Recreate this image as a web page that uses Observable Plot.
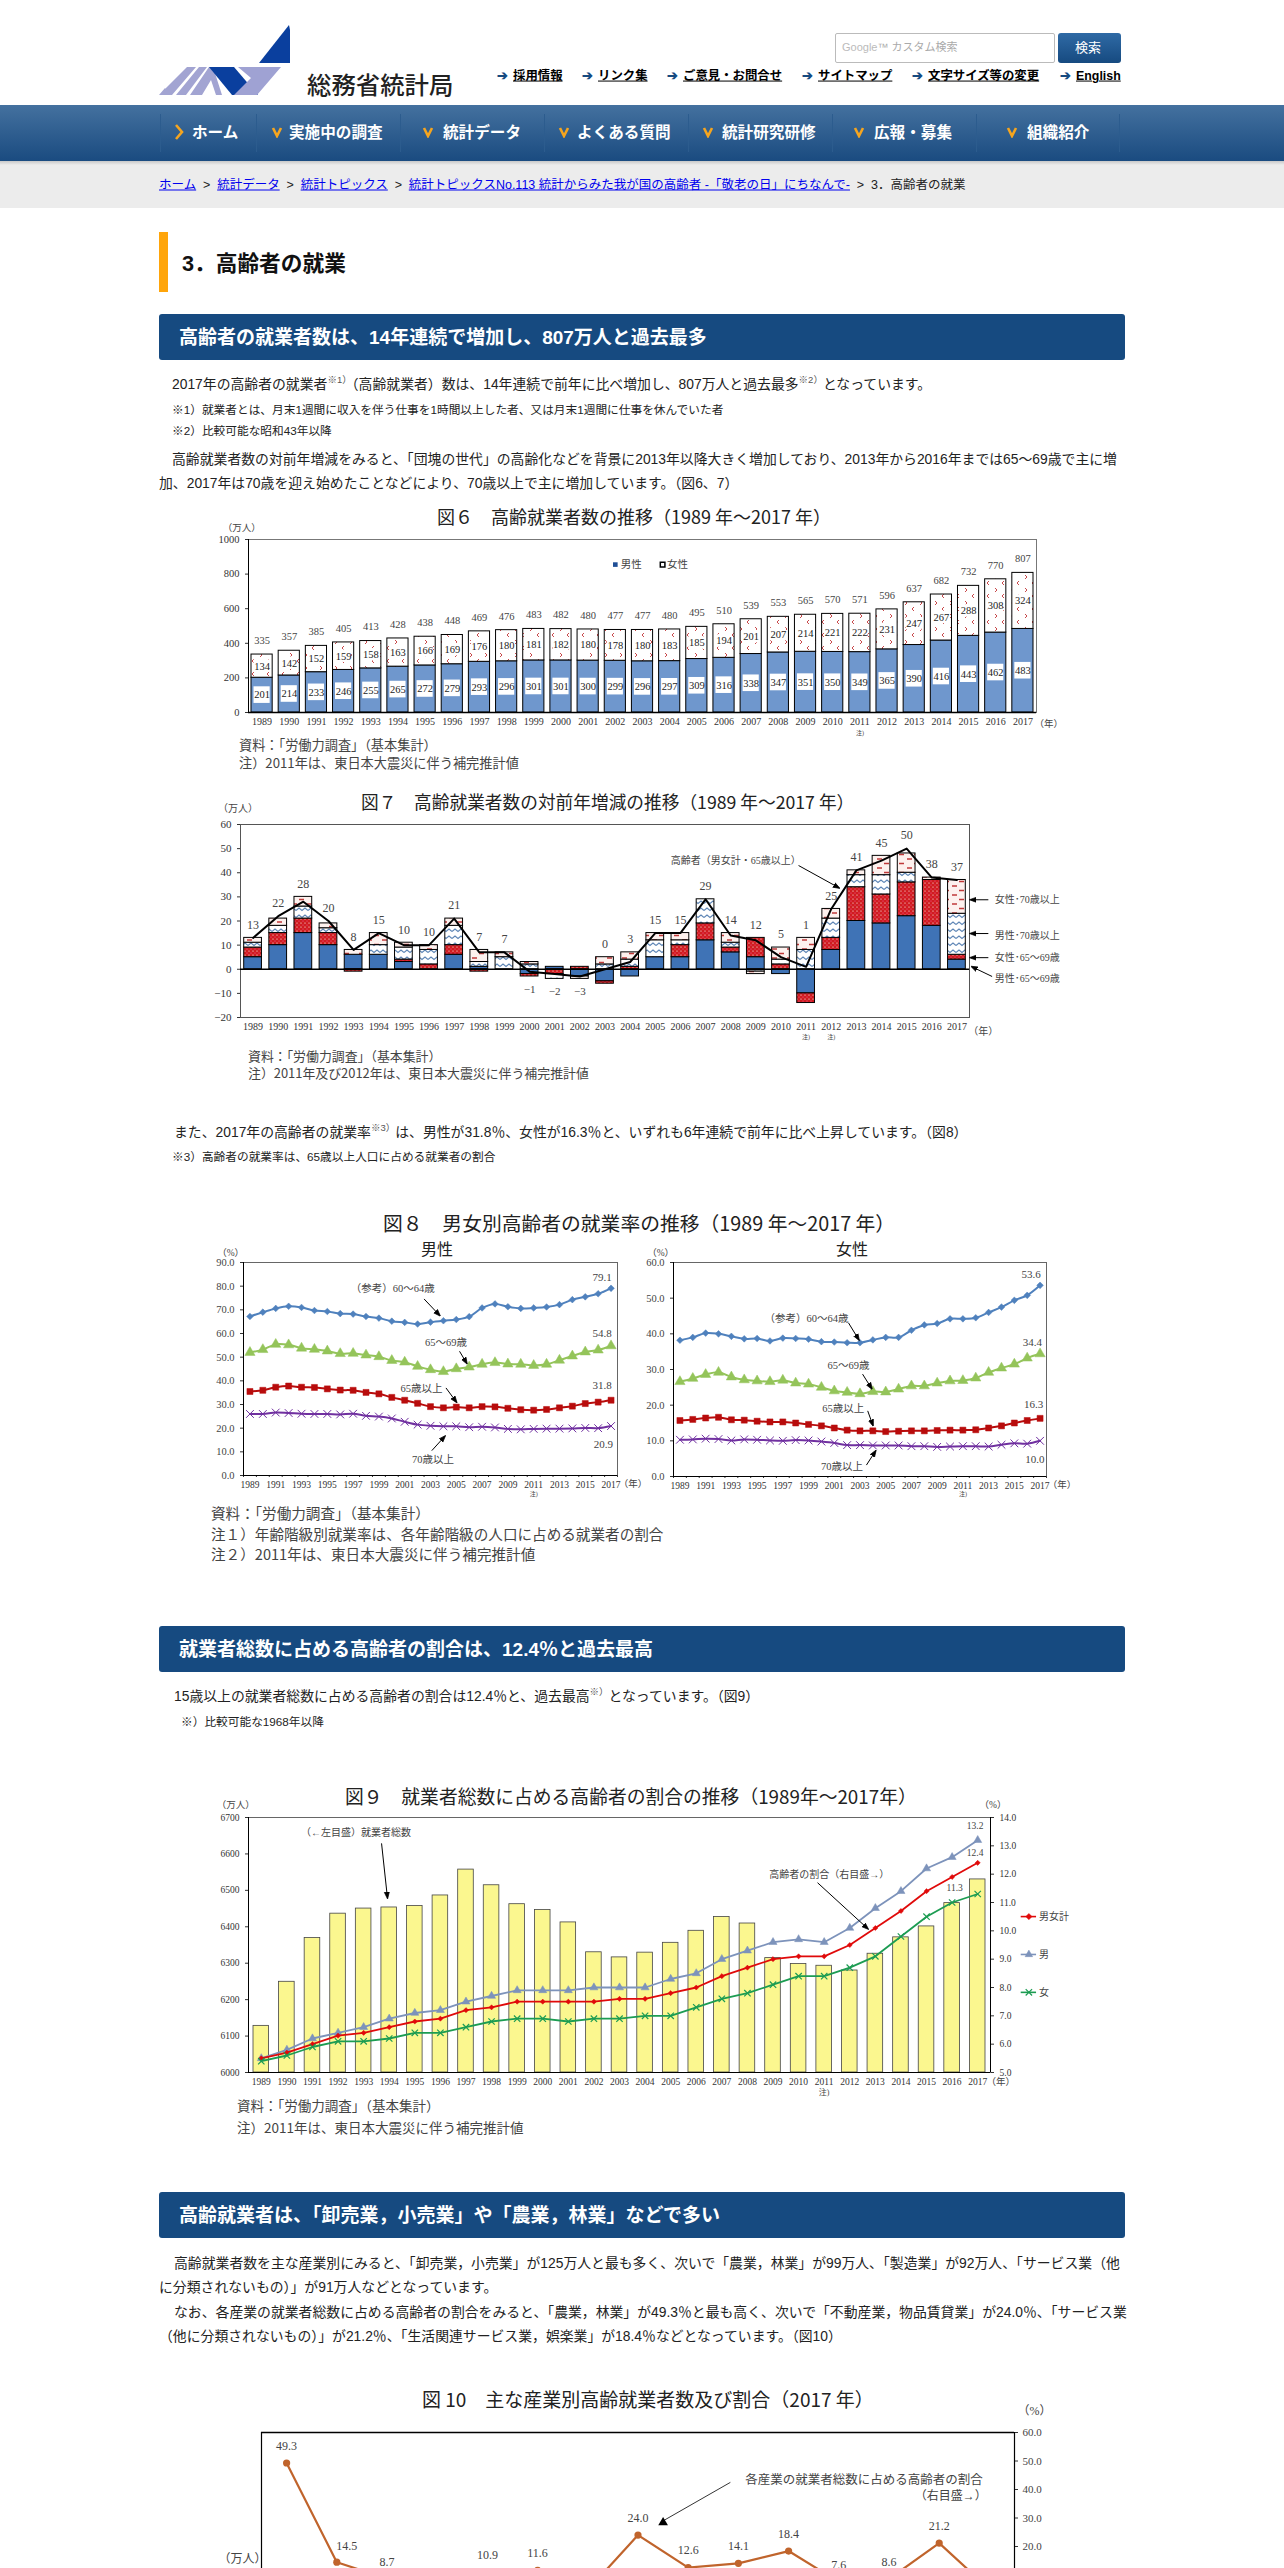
<!DOCTYPE html>
<html lang="ja"><head><meta charset="utf-8">
<script src="https://cdn.jsdelivr.net/npm/d3@7"></script>
<script src="https://cdn.jsdelivr.net/npm/@observablehq/plot@0.6"></script>
<style>
html,body{margin:0;padding:0;width:1284px;height:2568px;overflow:hidden;background:#fff}
body{position:relative;font-family:"Liberation Sans","Noto Sans CJK JP",sans-serif;color:#222}
.t{position:absolute;white-space:nowrap;transform:translateY(-50%);line-height:1.2}
.p{font-size:13.85px;color:#222}
.n{font-size:11.7px;color:#222}
.h2{font-size:19px;font-weight:bold;color:#fff}
.ct{font-family:"Noto Sans CJK JP",sans-serif;font-size:18px;color:#222;font-weight:400}
.src{font-family:"Noto Sans CJK JP",sans-serif;font-size:13.2px;color:#444;font-weight:400}
.box{position:absolute}
.bar{position:absolute;left:159px;width:966px;height:46px;background:#164a80;border-radius:3px}
sup{font-size:9.5px;line-height:0;color:#555}
.lnk{font-size:12.4px;font-weight:bold;color:#000;text-decoration:underline}
.arw{font-weight:bold;color:#164a80}
.nav{font-size:15.6px;font-weight:bold;color:#fff}
.bc{font-size:12.5px;color:#222}.bc a{color:#00e;text-decoration:underline}
.bc i{display:inline-block;width:21px;text-align:center;font-style:normal}
</style></head><body>
<svg width="0" height="0" style="position:absolute"><defs>
<pattern id="pWomen" width="15" height="13" patternUnits="userSpaceOnUse"><rect width="15" height="13" fill="#fff"/><path d="M2 1l2 2-2 2M11 7l-2 2 2 2" fill="none" stroke="#c8494b" stroke-width="1"/></pattern>
<pattern id="pRed" width="4" height="4" patternUnits="userSpaceOnUse"><rect width="4" height="4" fill="#d01c1f"/><circle cx="1" cy="1" r=".6" fill="#fff"/><circle cx="3" cy="3" r=".5" fill="#f6b"/></pattern>
<pattern id="pZig" width="12" height="7" patternUnits="userSpaceOnUse"><rect width="12" height="7" fill="#fff"/><path d="M0 4.5L3 2 6 4.5 9 2 12 4.5" fill="none" stroke="#5e86b6" stroke-width="1.1"/></pattern>
<pattern id="pDash" width="15" height="9" patternUnits="userSpaceOnUse"><rect width="15" height="9" fill="#fdf1ee"/><path d="M2 2h5M9 6.5h5" stroke="#c03a3a" stroke-width="1.3"/></pattern>
</defs></svg>

<!-- header -->
<svg class="box" style="left:155px;top:20px" width="135" height="80" viewBox="155 20 135 80">
<path d="M289 25L259 63H290L293 44Z" fill="#0a3f9e"/><path d="M292 50L305 63H294Z" fill="#0a3f9e"/>
<path d="M159 95L187 67H196L172 95ZM176 95L199 67H207L186 95ZM190 95L209 67H213L222 95H216L211 80 202 95ZM159 95L165 88 168 95Z" fill="#a2a4d2"/>
<path d="M209 67H234L258 95H232Z" fill="#0a3f9e"/><path d="M238 67H281L257 95H234L251 78Z" fill="#9fa2d3"/>
</svg>
<div id="root"></div>
<script>
// ---- chart data ----
const YEARS=[1989,1990,1991,1992,1993,1994,1995,1996,1997,1998,1999,2000,2001,2002,2003,2004,2005,2006,2007,2008,2009,2010,2011,2012,2013,2014,2015,2016,2017];
// fig 6
const men6=[201,214,233,246,255,265,272,279,293,296,301,301,300,299,296,297,309,316,338,347,351,350,349,365,390,416,443,462,483];
const women6=[134,142,152,159,158,163,166,169,176,180,181,182,180,178,180,183,185,194,201,207,214,221,222,231,247,267,288,308,324];
const total6=[335,357,385,405,413,428,438,448,469,476,483,482,480,477,477,480,495,510,539,553,565,570,571,596,637,682,732,770,807];
// fig 7
const m65=[5,10,15,10,6,6,3,0,6,1,0,-2,1,-3,-5,-3,5,5,12,7,5,-2,-10,8,20,19,22,18,4];
const f65=[4,5,6,5,-1,0,1,2,4,-1,0,-1,-2,1,-1,1,0,5,7,2,8,2,-4,5,14,12,14,19,2];
const m70=[2,3,5,2,0,4,5,6,8,2,5,2,-2,0,2,3,7,2,10,2,-1,2,8,8,5,8,4,0,17];
const f70=[2,3,4,2,2,5,2,2,3,5,2,1,0,-1,3,3,3,3,0,4,-1,5,5,4,2,8,8,1,14];
const total7=[13,22,28,20,8,15,10,10,21,7,7,-1,-2,-3,0,3,15,15,29,14,12,5,1,25,41,45,50,38,37];
// fig 8
const mA=[67.2,69,70.6,71.5,71,69.7,69.3,68.4,68.2,67.2,66.5,65.2,64.7,64,64.8,65.4,65.9,67.1,70.8,72.5,71.3,70.6,70.8,71.2,72.2,74.3,75.5,76.8,79.1];
const mB=[52,53.2,55.4,55.2,53.8,53.3,52.6,51.5,51.6,50.9,50.2,48.6,47.9,46.1,44.7,43.9,45.1,45.8,47,47.7,47.1,47,46.5,47,48.7,50.5,52.2,53,54.8];
const mC=[35.5,36,37.3,37.8,37.3,37.2,36.6,36.1,36,35.1,34.5,33,31.8,30.5,29.1,28.6,28.9,28.6,29.1,29,28.4,27.8,27.6,27.9,28.6,29.3,30.4,31,31.8];
const mD=[26,26,26.6,26.4,26.1,26,26,25.8,26.1,25.2,24.9,24.1,22.7,21.5,21,20.8,20.8,20.4,20.6,20.3,19.7,19.5,19.7,19.8,19.8,19.9,20.1,20,20.9];
const fA=[38.2,39,40.2,40,39.3,38.6,38.7,38,38.8,38.7,38.5,37.8,37.7,37.5,37.5,38.3,39,39,41,42.5,42.9,44.2,44.2,44.5,46,47.5,49.4,50.8,53.6];
const fB=[26.6,27.5,28.6,29.2,27.9,27.1,26.8,26.6,27,26.2,25.9,25,24,23.6,23.2,23.8,23.7,24.5,25.4,25.4,26.2,26.8,26.9,27.6,29.2,30.4,31.5,33.2,34.4];
const fC=[15.7,16,16.4,16.6,15.9,15.8,15.5,15.3,15.3,15,14.6,14.2,13.6,13,12.8,12.8,12.6,12.7,12.8,12.8,12.9,13,13,13.1,13.6,14.2,15,15.7,16.3];
const fD=[10.3,10.4,10.6,10.5,10.1,10.4,10.3,10.1,10,10.2,10.1,9.8,9.4,8.8,8.8,8.7,8.7,8.7,8.5,8.5,8.3,8.4,8.5,8.5,8.4,8.9,9.3,9.2,10];
// fig 9
const employed=[6128,6249,6369,6436,6450,6453,6457,6486,6557,6514,6462,6446,6412,6330,6316,6329,6356,6389,6427,6409,6314,6298,6293,6280,6326,6371,6401,6465,6530];
const shareAll=[5.5,5.7,6,6.3,6.4,6.6,6.8,6.9,7.2,7.3,7.5,7.5,7.5,7.5,7.6,7.6,7.8,8,8.4,8.7,9,9.1,9.1,9.5,10.1,10.7,11.4,11.9,12.4];
const shareMen=[5.5,5.8,6.2,6.4,6.6,6.9,7.1,7.2,7.5,7.7,7.9,7.9,7.9,8,8,8,8.3,8.5,9,9.3,9.6,9.7,9.6,10.1,10.8,11.4,12.2,12.6,13.2];
const shareWomen=[5.4,5.6,5.9,6.1,6.1,6.2,6.4,6.4,6.6,6.8,6.9,6.9,6.8,6.9,6.9,7,7,7.3,7.6,7.8,8.1,8.4,8.4,8.7,9.1,9.8,10.5,11,11.3];
// fig 10
const shareIndustry=[49.3,14.5,8.7,4.5,10.9,11.6,4.7,24,12.6,14.1,18.4,7.6,8.6,21.2,5];

// ---- helpers ----
const root=document.getElementById("root");
function T(x,y,html,cls,extra){const d=document.createElement("div");d.className="t "+(cls||"");d.style.left=x+"px";d.style.top=y+"px";d.innerHTML=html;if(extra)d.style.cssText+=";"+extra;root.appendChild(d);return d;}
function B(l,t,w,h,css){const d=document.createElement("div");d.className="box";d.style.cssText=`left:${l}px;top:${t}px;width:${w}px;height:${h}px;${css}`;root.appendChild(d);return d;}
const SERIF='"Liberation Serif","Noto Sans CJK JP",serif';
function chart(box,m,xd,yd,marks){
  const [ml,mr,mt,mb]=m;
  const svg=Plot.plot({width:box.r-box.l+ml+mr,height:box.b-box.t+mt+mb,marginLeft:ml,marginRight:mr,marginTop:mt,marginBottom:mb,
    x:{domain:xd,axis:null},y:{domain:yd,axis:null},
    style:{fontFamily:SERIF,background:"transparent",color:"#333",overflow:"visible"},marks});
  svg.style.position="absolute";svg.style.left=(box.l-ml)+"px";svg.style.top=(box.t-mt)+"px";svg.style.maxWidth="none";
  root.appendChild(svg);return svg;
}
const head=(color)=>{const m=d3.create("svg:marker").attr("viewBox","-5 -5 10 10").attr("markerWidth",7).attr("markerHeight",7).attr("orient","auto").attr("refX",3);m.append("path").attr("d","M-5,-3.6L5,0L-5,3.6Z").attr("fill",color);return m.node();};
const arrows=(list)=>Plot.link(list,{x1:d=>d[0],y1:d=>d[1],x2:d=>d[2],y2:d=>d[3],stroke:"#000",strokeWidth:1,markerEnd:head});
const notes=(list,fs,opt={})=>Plot.text(list,{x:d=>d[0],y:d=>d[1],text:d=>d[2],fontSize:fs,fill:"#444",...opt});
const XD=[1988.5,2017.5];
const rows=(vals)=>YEARS.map((y,i)=>({y,v:vals[i]}));

// ---- page chrome ----
[["採用情報",498],["リンク集",583],["ご意見・お問合せ",668],["サイトマップ",803],["文字サイズ等の変更",913],["English",1061]].forEach(([s,x])=>{
  T(x-1,76,"➔","arw","font-size:13px");T(x+15,76,s,"lnk");});
T(307,84,"総務省統計局","","font-family:'Noto Sans CJK JP';font-size:24.4px;font-weight:500;color:#222");
B(835,33,218,28,"border:1px solid #bbb;border-radius:2px;background:#fff");
T(842,48,"<span style='color:#bbb'>Google</span><span style='color:#aaa'>™ カスタム検索</span>","","font-size:11px");
B(1058,33,63,30,"background:linear-gradient(#2f6aa5,#164a80);border-radius:3px");
T(1075,48,"検索","","font-size:13px;color:#fff");
B(0,105,1284,56,"background:linear-gradient(#44719f,#1a4b80)");
B(0,161,1284,47,"background:linear-gradient(#c8c8c8,#ececec 4px,#ececec)");
[160,256,400,544,688,832,976,1119].forEach(x=>B(x,114,1,38,"background:#2c5c8e"));
[["ホーム",192,179,1],["実施中の調査",289,276,0],["統計データ",443,427,0],["よくある質問",577,563,0],["統計研究研修",722,707,0],["広報・募集",874,858,0],["組織紹介",1027,1011,0]].forEach(([s,x,c,home])=>{
  T(x,133,s,"nav");
  T(c-5,132,home?"<svg width='10' height='18'><path d='M2 2L8 9 2 16' fill='none' stroke='#f5a51f' stroke-width='2.6'/></svg>":"<svg width='12' height='12'><path d='M2 2L6 10 10 2' fill='none' stroke='#f5a51f' stroke-width='2.6'/></svg>","","line-height:0");
});
T(159,185,"<a>ホーム</a><i>&gt;</i><a>統計データ</a><i>&gt;</i><a>統計トピックス</a><i>&gt;</i><a>統計トピックスNo.113 統計からみた我が国の高齢者 -「敬老の日」にちなんで-</a><i>&gt;</i>3．高齢者の就業","bc");
B(159,232,9,60,"background:#ffa50a");
T(182,264,"3．高齢者の就業","","font-size:21.7px;font-weight:bold;color:#111");
[[314,"高齢者の就業者数は、14年連続で増加し、807万人と過去最多"],[1626,"就業者総数に占める高齢者の割合は、12.4％と過去最高"],[2192,"高齢就業者は、「卸売業，小売業」や「農業，林業」などで多い"]].forEach(([y,s])=>{
  const d=document.createElement("div");d.className="bar";d.style.top=y+"px";root.appendChild(d);T(179,y+24,s,"h2");});
T(172,384,"2017年の高齢者の就業者<sup>※1）</sup>（高齢就業者）数は、14年連続で前年に比べ増加し、807万人と過去最多<sup>※2）</sup>となっています。","p");
T(172,410,"※1）就業者とは、月末1週間に収入を伴う仕事を1時間以上した者、又は月末1週間に仕事を休んでいた者","n");
T(172,431,"※2）比較可能な昭和43年以降","n");
T(172,459,"高齢就業者数の対前年増減をみると、「団塊の世代」の高齢化などを背景に2013年以降大きく増加しており、2013年から2016年までは65～69歳で主に増","p");
T(159,483,"加、2017年は70歳を迎え始めたことなどにより、70歳以上で主に増加しています。（図6、7）","p");
T(174,1132,"また、2017年の高齢者の就業率<sup>※3）</sup>は、男性が31.8％、女性が16.3％と、いずれも6年連続で前年に比べ上昇しています。（図8）","p");
T(172,1157,"※3）高齢者の就業率は、65歳以上人口に占める就業者の割合","n");
T(174,1696,"15歳以上の就業者総数に占める高齢者の割合は12.4％と、過去最高<sup>※）</sup>となっています。（図9）","p");
T(181,1722,"※）比較可能な1968年以降","n");
T(174,2263,"高齢就業者数を主な産業別にみると、「卸売業，小売業」が125万人と最も多く、次いで「農業，林業」が99万人、「製造業」が92万人、「サービス業（他","p");
T(159,2287,"に分類されないもの）」が91万人などとなっています。","p");
T(174,2312,"なお、各産業の就業者総数に占める高齢者の割合をみると、「農業，林業」が49.3％と最も高く、次いで「不動産業，物品賃貸業」が24.0％、「サービス業","p");
T(159,2336,"（他に分類されないもの）」が21.2％、「生活関連サービス業，娯楽業」が18.4％などとなっています。（図10）","p");

// chart titles and sources
T(437,517,"図６　高齢就業者数の推移（1989 年～2017 年）","ct");
T(361,802,"図７　高齢就業者数の対前年増減の推移（1989 年～2017 年）","ct","font-size:17.7px");
T(383,1223,"図８　男女別高齢者の就業率の推移（1989 年～2017 年）","ct","font-size:19.8px");
T(421,1249,"男性","ct","font-size:16px");T(836,1249,"女性","ct","font-size:16px");
T(345,1796,"図９　就業者総数に占める高齢者の割合の推移（1989年～2017年）","ct","font-size:18.8px");
T(422,2399,"図 10　主な産業別高齢就業者数及び割合（2017 年）","ct","font-size:19px");
T(239,745,"資料：「労働力調査」（基本集計）","src");T(239,763,"注）2011年は、東日本大震災に伴う補完推計値","src");
T(248,1056,"資料：「労働力調査」（基本集計）","src","font-size:12.9px");T(248,1073,"注）2011年及び2012年は、東日本大震災に伴う補完推計値","src","font-size:12.9px");
T(211,1513,"資料：「労働力調査」（基本集計）","src","font-size:14.6px");T(211,1534,"注１）年齢階級別就業率は、各年齢階級の人口に占める就業者の割合","src","font-size:14.6px");T(211,1554,"注２）2011年は、東日本大震災に伴う補完推計値","src","font-size:14.6px");
T(237,2105,"資料：「労働力調査」（基本集計）","src","font-size:13.5px");T(237,2127,"注）2011年は、東日本大震災に伴う補完推計値","src","font-size:13.5px");

// ---- Fig 6 ----
{
 const r=YEARS.map((y,i)=>({y,m:men6[i],w:women6[i],t:total6[i]}));
 const rect={x1:d=>d.y-.5,x2:d=>d.y+.5,insetLeft:3,insetRight:3,stroke:"#000",strokeWidth:1};
 const inner={x1:d=>d.y-.5,x2:d=>d.y+.5,insetLeft:5.5,insetRight:5.5,fill:"#fff"};
 chart({l:248,r:1036,t:539,b:712},[50,50,30,45],XD,[0,1000],[
  Plot.frame({stroke:"#777"}),
  Plot.axisY({ticks:[0,200,400,600,800,1000],tickSize:3,fontSize:10.5,label:null,tickFormat:String}),
  Plot.axisX({ticks:YEARS,tickFormat:String,tickSize:0,tickPadding:5,fontSize:10,label:null}),
  Plot.rect(r,{...rect,y1:0,y2:"m",fill:"#6f97cd"}),
  Plot.rect(r,{...rect,y1:"m",y2:"t",fill:"url(#pWomen)"}),
  Plot.rect(r,{...inner,y1:d=>d.m/2-48,y2:d=>d.m/2+48}),
  Plot.rect(r,{...inner,y1:d=>d.m+d.w/2-36,y2:d=>d.m+d.w/2+36}),
  Plot.text(r,{x:"y",y:d=>d.m/2,text:d=>String(d.m),fontSize:10.5,fill:"#222"}),
  Plot.text(r,{x:"y",y:d=>d.m+d.w/2,text:d=>String(d.w),fontSize:10.5,fill:"#222"}),
  Plot.text(r,{x:"y",y:"t",dy:-14,text:d=>String(d.t),fontSize:10.5,fill:"#444"}),
  Plot.ruleY([0],{stroke:"#000",strokeWidth:1.4}),Plot.ruleX([1988.5],{stroke:"#000"}),
  Plot.dot([[2002,855]],{x:d=>d[0],y:d=>d[1],symbol:"square",r:2.6,fill:"#1f4f96"}),
  Plot.dot([[2003.74,855]],{x:d=>d[0],y:d=>d[1],symbol:"square",r:2.6,fill:"#fff",stroke:"#000"}),
  notes([[2002.2,855,"男性"],[2003.9,855,"女性"]],10.5,{textAnchor:"start"}),
  notes([[1988.25,1069,"（万人）"],[2017.95,-64,"（年）"]],9.5),
  notes([[2011,-121,"注)"]],6),
 ]);
}
// ---- Fig 7 ----
{
 const series=[["m65",m65,"#3f73b6"],["f65",f65,"url(#pRed)"],["m70",m70,"url(#pZig)"],["f70",f70,"url(#pDash)"]];
 const stacked=[];const tops=[];
 YEARS.forEach((y,i)=>{let pos=0,neg=0;series.forEach(([k,v,fill])=>{const a=v[i];if(!a)return;
   if(a>0){stacked.push({y,y1:pos,y2:pos+a,fill});pos+=a;}else{stacked.push({y,y1:neg,y2:neg+a,fill});neg+=a;}});
   tops.push({y,t:total7[i],top:Math.max(pos,total7[i]),bot:Math.min(neg,total7[i])});});
 chart({l:240,r:969,t:824,b:1017},[40,110,30,45],XD,[-20,60],[
  Plot.frame({stroke:"#555"}),
  Plot.axisY({ticks:[-20,-10,0,10,20,30,40,50,60],tickSize:3,fontSize:11,label:null,tickFormat:d=>d<0?"−"+(-d):String(d)}),
  Plot.axisX({ticks:YEARS,tickFormat:String,tickSize:0,tickPadding:5,fontSize:10,label:null}),
  Plot.rect(stacked,{x1:d=>d.y-.5,x2:d=>d.y+.5,insetLeft:3.7,insetRight:3.7,y1:"y1",y2:"y2",fill:"fill",stroke:"#000",strokeWidth:1}),
  Plot.ruleY([0],{stroke:"#000",strokeWidth:1.6}),
  Plot.line(rows(total7),{x:"y",y:"v",stroke:"#000",strokeWidth:2}),
  Plot.text(tops.filter(d=>d.t>=0),{x:"y",y:"top",dy:-13,text:d=>String(d.t),fontSize:12,fill:"#444"}),
  Plot.text(tops.filter(d=>d.t<0),{x:"y",y:"bot",dy:13,text:d=>"−"+(-d.t),fontSize:11,fill:"#444"}),
  notes([[2008.2,45,"高齢者（男女計・65歳以上）"]],10),
  arrows([[2010.7,43,2012.3,33.8],[2018.25,28.8,2017.55,28.8],[2018.25,14.8,2017.55,14.8],[2018.25,4.8,2017.55,4.8],[2018.4,-3,2017.6,1]]),
  notes([[2018.5,28.8,"女性･70歳以上"],[2018.5,14,"男性･70歳以上"],[2018.5,4.7,"女性･65～69歳"],[2018.5,-4,"男性･65～69歳"]],10,{textAnchor:"start"}),
  notes([[1988.4,66.4,"（万人）"],[2018.05,-25.8,"（年）"]],10),
  notes([[2011,-28,"注)"],[2012,-28,"注)"]],6),
 ]);
}
// ---- Fig 8 ----
const C8={a:"#4f81bd",b:"#94c45a",c:"#b80c0c",d:"#7030a0"};
function fig8(box,yd,ticks,vals,labels,texts,arr,yOff){
 const [A,Bb,C,D]=vals;
 const boundary=d3.range(1988.5,2018);
 chart(box,[55,60,30,40],XD,yd,[
  Plot.frame({stroke:"#666"}),
  Plot.axisY({ticks,tickSize:3,fontSize:10.5,label:null,tickFormat:d=>d.toFixed(1),fill:"#444"}),
  Plot.axisX({ticks:boundary,tickFormat:()=>"",tickSize:2,label:null}),
  Plot.axisX({ticks:YEARS,tickFormat:d=>d%2?String(d):"",tickSize:0,tickPadding:6,fontSize:9.5,label:null,fill:"#333"}),
  Plot.ruleY([yd[0]],{stroke:"#000",strokeWidth:1.2}),Plot.ruleX([XD[0]],{stroke:"#000"}),
  ...[[A,C8.a,"diamond2",3],[Bb,C8.b,"triangle",3.8],[C,C8.c,"square",3.4]].flatMap(([v,c,s,r])=>[
    Plot.line(rows(v),{x:"y",y:"v",stroke:c,strokeWidth:2,curve:"catmull-rom"}),
    Plot.dot(rows(v),{x:"y",y:"v",symbol:s,r,fill:c,stroke:c,strokeWidth:.5})]),
  Plot.line(rows(D),{x:"y",y:"v",stroke:C8.d,strokeWidth:2,curve:"catmull-rom"}),
  Plot.dot(rows(D),{x:"y",y:"v",symbol:"times",r:3.6,stroke:C8.d,strokeWidth:1}),
  notes(labels,11),notes(texts,10.5),arrows(arr),
  notes([[1987.5,yOff[0],"（%）"],[2018.7,yOff[1],"（年）"]],9.5),
  notes([[2011,yOff[2],"注)"]],6),
 ]);
}
fig8({l:243,r:617,t:1262,b:1475},[0,90],[0,10,20,30,40,50,60,70,80,90],[mA,mB,mC,mD],
 [[2016.3,83.6,"79.1"],[2016.3,59.9,"54.8"],[2016.3,37.9,"31.8"],[2016.4,13.3,"20.9"]],
 [[2000.07,79.1,"（参考）60～64歳"],[2004.2,56.2,"65～69歳"],[2002.3,36.7,"65歳以上"],[2003.2,6.9,"70歳以上"]],
 [[2002.5,74.6,2003.7,67.7],[2005.25,52.5,2005.8,47.5],[2004.2,37,2005,31.1],[2003.1,10.5,2004.1,16.5]],[94.2,-3.7,-7.9]);
fig8({l:673,r:1046,t:1262,b:1476},[0,60],[0,10,20,30,40,50,60],[fA,fB,fC,fD],
 [[2016.3,56.6,"53.6"],[2016.4,37.5,"34.4"],[2016.5,20.2,"16.3"],[2016.6,4.8,"10.0"]],
 [[1998.85,44.4,"（参考）60～64歳"],[2002.1,31.2,"65～69歳"],[2001.7,18.9,"65歳以上"],[2001.6,2.9,"70歳以上"]],
 [[2002.1,43.1,2002.9,38.4],[2003.2,28.7,2003.9,24.7],[2003.6,18.4,2004,14.4],[2003.5,3.2,2004.2,7.1]],[62.8,-2.4,-5]);
// ---- Fig 9 ----
{
 const toL=v=>6000+(v-5)*700/9;
 const toR=v=>5+(v-6000)*9/700;
 const S=[[shareMen,"#7d93bb","triangle",3],[shareAll,"#e00a0a","diamond2",2.3],[shareWomen,"#1c9c52","times",3]];
 const leg=[[6428,"#e00a0a","diamond2","男女計"],[6324,"#7d93bb","triangle","男"],[6220,"#1c9c52","times","女"]];
 chart({l:248,r:990,t:1817,b:2072},[35,80,30,30],XD,[6000,6700],[
  Plot.frame({stroke:"#666"}),
  Plot.axisY({ticks:d3.range(6000,6701,100),tickSize:3,fontSize:9.5,label:null,tickFormat:String}),
  Plot.axisY({anchor:"right",ticks:d3.range(5,15).map(toL),tickFormat:d=>toR(d).toFixed(1),tickSize:3,fontSize:9.5,label:null}),
  Plot.axisX({ticks:YEARS,tickFormat:String,tickSize:0,tickPadding:6,fontSize:9.5,label:null}),
  Plot.rect(rows(employed),{x1:d=>d.y-.5,x2:d=>d.y+.5,insetLeft:5,insetRight:5,y1:6000,y2:"v",fill:"#fbf78f",stroke:"#444",strokeWidth:.8}),
  Plot.ruleY([6000],{stroke:"#000",strokeWidth:1.2}),Plot.ruleX([XD[0]],{stroke:"#000"}),Plot.ruleX([XD[1]],{stroke:"#000"}),
  ...S.flatMap(([v,c,s,r])=>[
    Plot.line(rows(v),{x:"y",y:d=>toL(d.v),stroke:c,strokeWidth:1.8}),
    s==="times"?Plot.dot(rows(v),{x:"y",y:d=>toL(d.v),symbol:s,r,stroke:c,strokeWidth:1.2}):Plot.dot(rows(v),{x:"y",y:d=>toL(d.v),symbol:s,r,fill:c,stroke:c,strokeWidth:.5})]),
  ...leg.flatMap(([y,c,s])=>[
    Plot.ruleY([y],{x1:2018.7,x2:2019.3,stroke:c,strokeWidth:1.6}),
    s==="times"?Plot.dot([0],{x:()=>2019,y:()=>y,symbol:s,r:3,stroke:c,strokeWidth:1.2}):Plot.dot([0],{x:()=>2019,y:()=>y,symbol:s,r:2.8,fill:c,stroke:c,strokeWidth:.5})]),
  notes(leg.map(d=>[2019.4,d[0],d[3]]),10,{textAnchor:"start"}),
  notes([[2016.9,toL(13.7),"13.2"],[2016.9,toL(12.75),"12.4"],[2016.1,toL(11.5),"11.3"]],9.5),
  notes([[1992.7,6659,"（←左目盛）就業者総数"],[2011.2,6544,"高齢者の割合（右目盛→）"]],10),
  arrows([[1993.7,6629,1993.93,6480],[2010.74,6521,2012.7,6395]]),
  notes([[1988,6735,"（万人）"],[2017.6,6735,"（%）"],[2017.9,5973,"（年）"]],9.5),
  notes([[2011,5945,"注)"]],8),
 ]);
}
// ---- Fig 10 (continues past the page bottom) ----
{
 const r=shareIndustry.map((v,i)=>({i,v}));
 // labels that still fall on the page: the two lowest points drop below its bottom edge
 const shown=r.filter(d=>d.i!==1&&d.i!==3&&d.i!==14);
 chart({l:261,r:1014,t:2432,b:2603},[40,60,32,10],[-.5,14.5],[0,60],[
  Plot.ruleY([60],{stroke:"#000",strokeWidth:1.4}),Plot.ruleX([-.5],{stroke:"#000",strokeWidth:1.2}),Plot.ruleX([14.5],{stroke:"#000",strokeWidth:1.2}),
  Plot.axisY({anchor:"right",ticks:[20,30,40,50,60],tickSize:3,tickPadding:5,fontSize:11,label:null,tickFormat:d=>d.toFixed(1),fill:"#444"}),
  Plot.line(r,{x:"i",y:"v",stroke:"#c0642c",strokeWidth:2.2}),
  Plot.dot(r,{x:"i",y:"v",r:3.6,fill:"#c0642c"}),
  Plot.text(shown,{x:"i",y:"v",dy:-17,text:d=>d.v.toFixed(1),fontSize:12,fill:"#444"}),
  Plot.text(r.filter(d=>d.i===1),{x:"i",y:"v",dx:10,dy:-16,text:d=>d.v.toFixed(1),fontSize:12,fill:"#444"}),
  notes([[11.5,43.2,"各産業の就業者総数に占める高齢者の割合"]],12.5),
  notes([[13.95,37.5,"（右目盛→）"]],12,{textAnchor:"end"}),
  Plot.link([[8.84,42.5,7.5,29]],{x1:d=>d[0],y1:d=>d[1],x2:d=>d[2],y2:d=>d[3],stroke:"#000",strokeWidth:.8}),
  Plot.dot([[7.5,28.4]],{x:d=>d[0],y:d=>d[1],symbol:"triangle",r:3.6,fill:"#000"}),
  notes([[14.9,67.4,"（%）"],[-.88,15.4,"（万人）"]],12),
 ]);
}
</script>
</body></html>
